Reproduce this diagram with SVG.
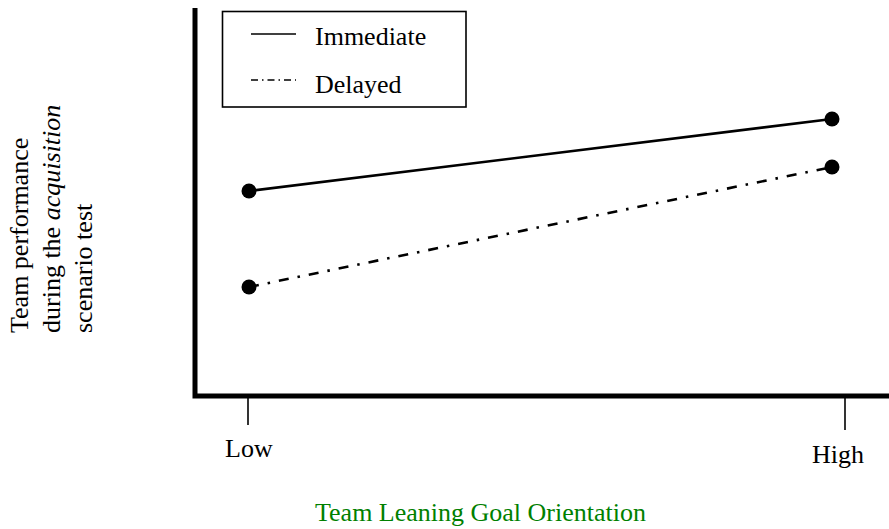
<svg xmlns="http://www.w3.org/2000/svg" width="889" height="529" viewBox="0 0 889 529">
<style>
text{font-family:"Liberation Serif","Times New Roman",serif;font-size:26px;fill:#000}
.axis{stroke:#000;stroke-width:5;fill:none}
.tick{stroke:#000;stroke-width:1.6}
.solid{stroke:#000;stroke-width:2.6;fill:none}
.dashdot{stroke:#000;stroke-width:2.6;fill:none;stroke-dasharray:10 9 2.5 9}
.pt{fill:#000}
</style>
<rect width="889" height="529" fill="#fff"/>
<g id="axes">
<path class="axis" d="M195,8 V396 H889"/>
<line class="tick" x1="248" y1="396" x2="248" y2="425"/>
<line class="tick" x1="845" y1="396" x2="845" y2="430"/>
<text x="225" y="457">Low</text>
<text x="812" y="463">High</text>
<text x="315" y="521" style="fill:#008000">Team Leaning Goal Orientation</text>
<text transform="rotate(-90)"><tspan x="-333" y="28">Team performance</tspan><tspan x="-333" y="60">during the <tspan style="font-style:italic">acquisition</tspan></tspan><tspan x="-333" y="92">scenario test</tspan></text>
</g>
<g id="legend">
<rect x="222.5" y="11.5" width="243.5" height="95.5" fill="#fff" stroke="#000" stroke-width="1.6"/>
<line x1="251" y1="34" x2="296" y2="34" stroke="#000" stroke-width="1.6"/>
<text x="315" y="45">Immediate</text>
<line x1="251" y1="80" x2="296" y2="80" stroke="#000" stroke-width="1.6" stroke-dasharray="7 4 1.5 4"/>
<text x="315" y="93">Delayed</text>
</g>
<g id="connectors">
<line class="solid" x1="249" y1="191" x2="832" y2="119"/>
<line class="dashdot" x1="249" y1="287" x2="832" y2="167"/>
</g>
<g id="imm-low"><circle class="pt" cx="249" cy="191" r="7.5"/></g>
<g id="imm-high"><circle class="pt" cx="832" cy="119" r="7.5"/></g>
<g id="del-low"><circle class="pt" cx="249" cy="287" r="7.5"/></g>
<g id="del-high"><circle class="pt" cx="832" cy="167" r="7.5"/></g>
</svg>
